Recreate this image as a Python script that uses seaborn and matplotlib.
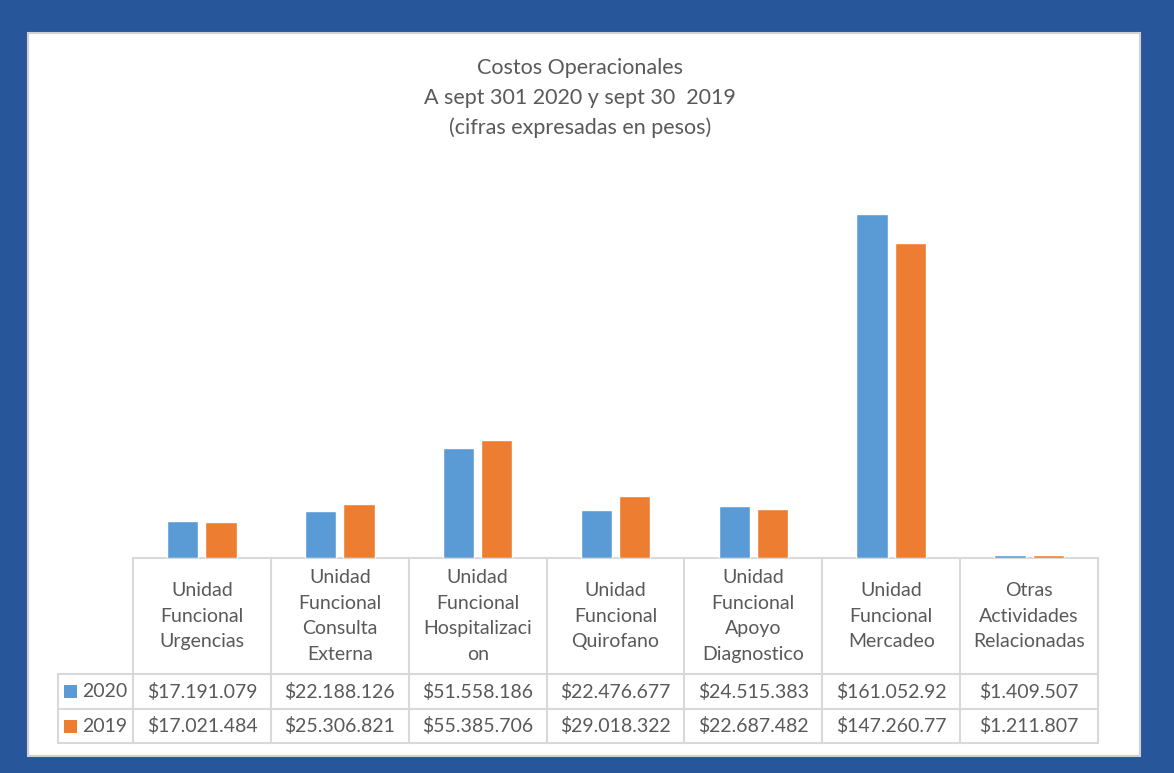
import pandas as pd
import seaborn as sns
import matplotlib.pyplot as plt
from matplotlib.lines import Line2D
from matplotlib.patches import Rectangle
from matplotlib.transforms import blended_transform_factory

# datos
categorias = [
    "Unidad\nFuncional\nUrgencias",
    "Unidad\nFuncional\nConsulta\nExterna",
    "Unidad\nFuncional\nHospitalizaci\non",
    "Unidad\nFuncional\nQuirofano",
    "Unidad\nFuncional\nApoyo\nDiagnostico",
    "Unidad\nFuncional\nMercadeo",
    "Otras\nActividades\nRelacionadas",
]
valores_2020 = [17191079, 22188126, 51558186, 22476677, 24515383, 161052920, 1409507]
valores_2019 = [17021484, 25306821, 55385706, 29018322, 22687482, 147260770, 1211807]
etiquetas_2020 = ["$17.191.079", "$22.188.126", "$51.558.186", "$22.476.677",
                  "$24.515.383", "$161.052.92", "$1.409.507"]
etiquetas_2019 = ["$17.021.484", "$25.306.821", "$55.385.706", "$29.018.322",
                  "$22.687.482", "$147.260.77", "$1.211.807"]
series = ["2020", "2019"]
colores = ["#5B9BD5", "#ED7D31"]

titulo = "Costos Operacionales\nA sept 301 2020 y sept 30  2019\n(cifras expresadas en pesos)"

W, H = 1174, 773
gris_texto = "#595959"
gris_linea = "#D9D9D9"

sns.set_theme(style="white")
plt.rcParams['font.family'] = ['Lato', 'DejaVu Sans']

df = pd.DataFrame({
    "categoria": categorias * 2,
    "anio": ["2020"] * len(categorias) + ["2019"] * len(categorias),
    "valor": valores_2020 + valores_2019,
})

fig = plt.figure(figsize=(W / 100, H / 100), dpi=100)
fig.patch.set_facecolor("#27579A")

# panel blanco (detras de los ejes)
fig.patches.append(Rectangle((28 / W, 1 - 756 / H), (1140 - 28) / W, (756 - 33) / H,
                             transform=fig.transFigure, facecolor="white",
                             edgecolor="#D0D0D0", linewidth=1.5, zorder=-5))

def fy(px):
    return 1 - px / H

x0, x1 = 133 / W, 1098 / W
ax = fig.add_axes([x0, fy(558), x1 - x0, fy(173) - fy(558)])
ax.set_facecolor("none")
ax.set_zorder(2)

sns.barplot(data=df, x="categoria", y="valor", hue="anio", hue_order=series,
            order=categorias, palette=colores, saturation=1, width=0.557,
            gap=0.185, legend=False, ax=ax)
ax.set_xlim(-0.5, len(categorias) - 0.5)
ax.set_ylim(0, 180e6)
ax.set_xticks([])
ax.set_yticks([])
ax.set_xlabel("")
ax.set_ylabel("")
for s in ax.spines.values():
    s.set_visible(False)

fig.text(0.494, fy(98), titulo, ha="center", va="center", fontsize=15.5,
         color=gris_texto, linespacing=1.6)

# tabla de datos
tr = blended_transform_factory(ax.transData, fig.transFigure)
y_top, y_h, y_r1, y_r2 = fy(558), fy(674), fy(709), fy(743)
lw = 1.5
n = len(categorias)
fig.add_artist(Line2D([-0.5, n - 0.5], [y_top, y_top], transform=tr, color=gris_linea, lw=lw))
for y in [y_h, y_r1, y_r2]:
    fig.add_artist(Line2D([58 / W, x1], [y, y], transform=fig.transFigure,
                          color=gris_linea, lw=lw))
for i in range(n + 1):
    fig.add_artist(Line2D([i - 0.5, i - 0.5], [y_top, y_r2], transform=tr,
                          color=gris_linea, lw=lw))
fig.add_artist(Line2D([58 / W, 58 / W], [y_h, y_r2], transform=fig.transFigure,
                      color=gris_linea, lw=lw))

for i, cat in enumerate(categorias):
    fig.text(i, (y_top + y_h) / 2, cat, transform=tr, ha="center", va="center",
             fontsize=14, color=gris_texto, linespacing=1.62)
    fig.text(i, (y_h + y_r1) / 2, etiquetas_2020[i], transform=tr, ha="center",
             va="center", fontsize=14, color=gris_texto)
    fig.text(i, (y_r1 + y_r2) / 2, etiquetas_2019[i], transform=tr, ha="center",
             va="center", fontsize=14, color=gris_texto)

for (ya, yb), nombre, col in zip([(y_h, y_r1), (y_r1, y_r2)], series, colores):
    yc = (ya + yb) / 2
    fig.patches.append(Rectangle((64 / W, yc - 6.5 / H), 13 / W, 13 / H,
                                 transform=fig.transFigure, facecolor=col,
                                 edgecolor="none"))
    fig.text(82 / W, yc, nombre, ha="left", va="center", fontsize=14, color=gris_texto)

fig.savefig("out.png", dpi=100, facecolor=fig.get_facecolor())
